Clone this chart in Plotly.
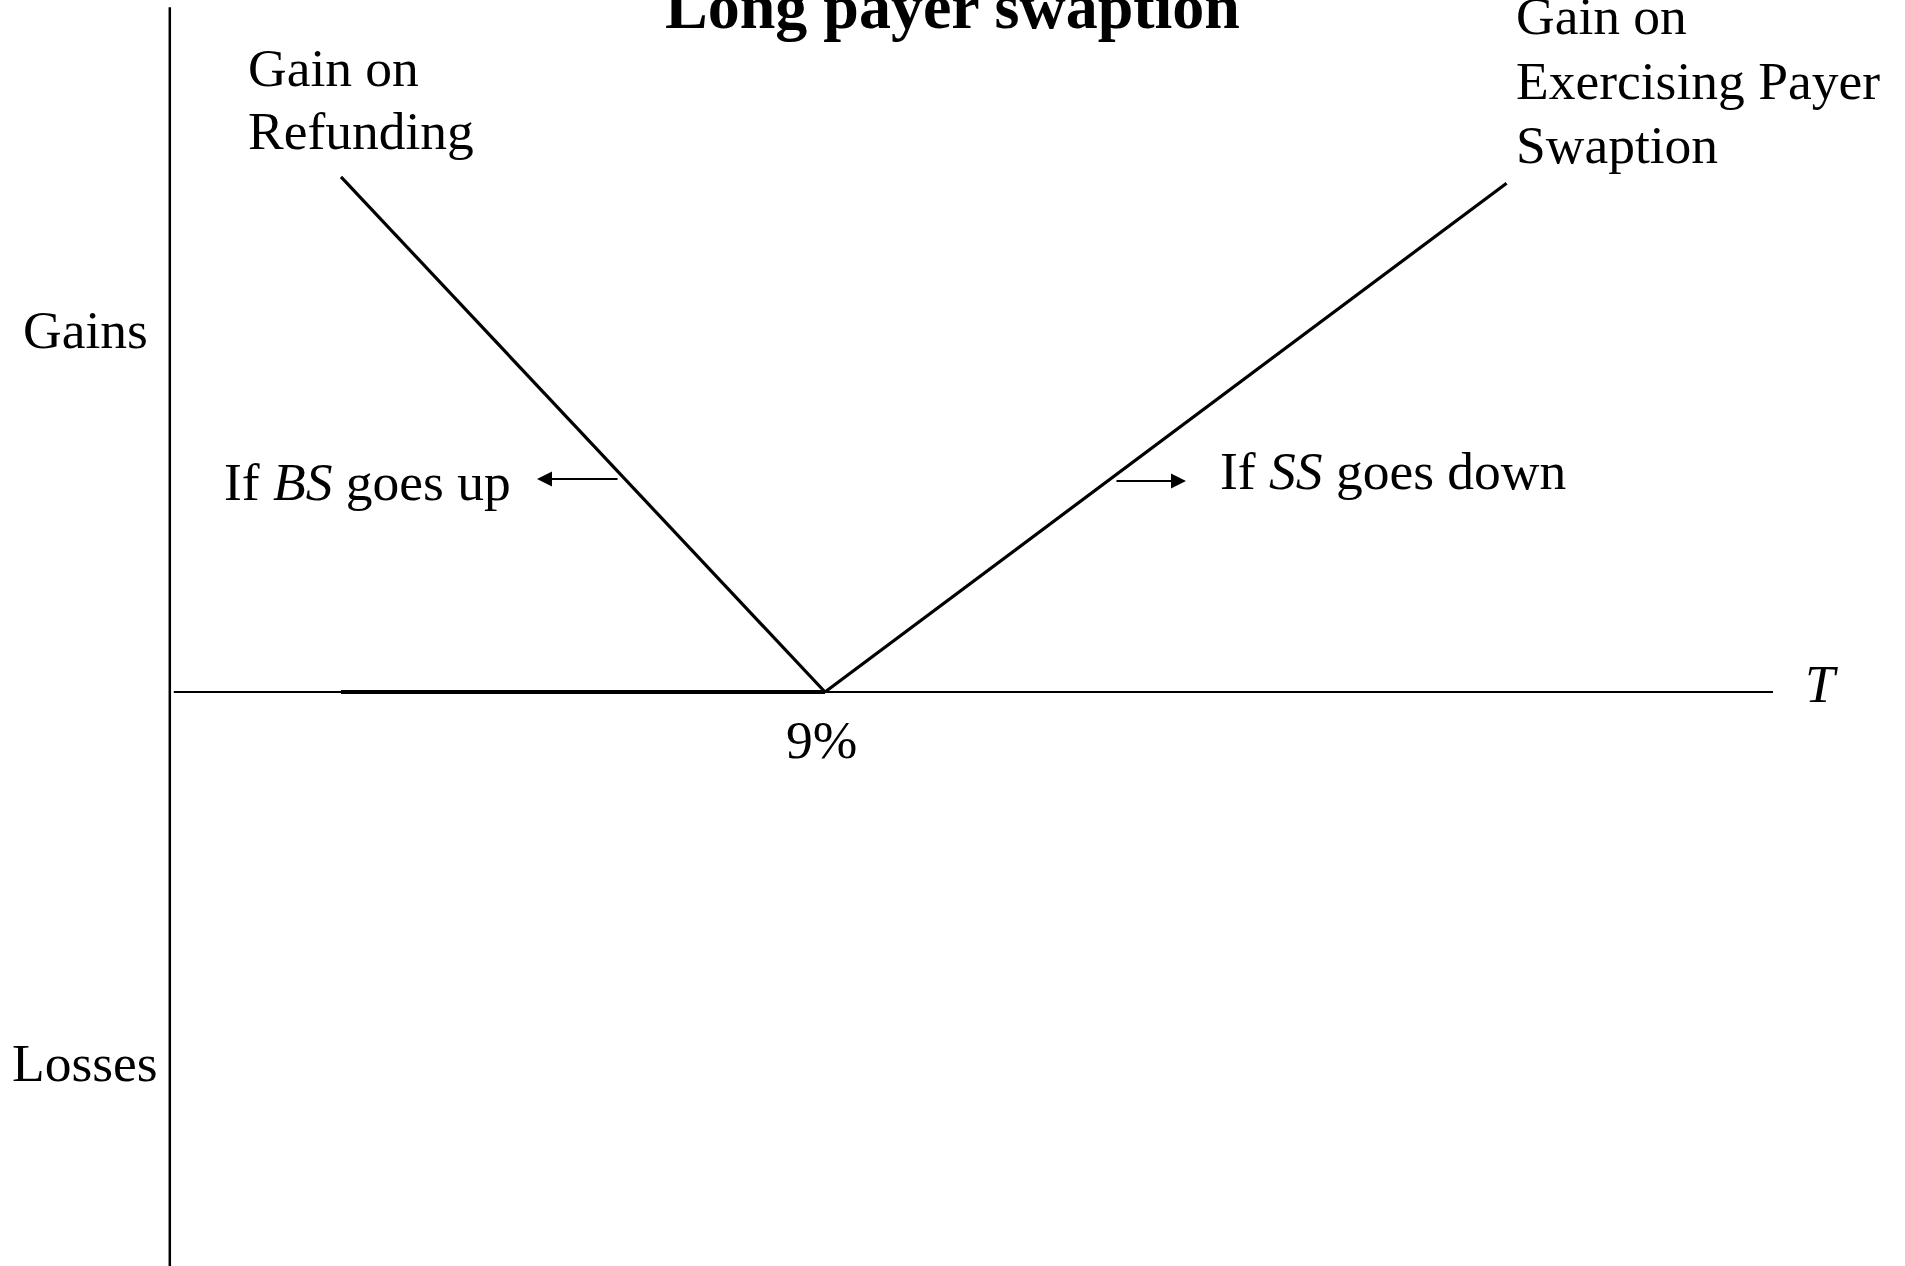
import plotly.graph_objects as go

# ---- data (x: interest rate units, 9 = strike; y: gain/loss units) ----
strike = 9
refund_rates = [2.95, 9]          # left leg of the V (gain on refunding)
refund_gain = [6.44, 0]
swaption_rates = [9, 17.52]       # right leg of the V (gain on exercising payer swaption)
swaption_gain = [0, 6.36]
flat_rates = [2.95, 9]            # thick flat segment on the axis
flat_gain = [0, 0]
haxis_rates = [0.86, 20.85]
haxis_vals = [0, 0]
vaxis_rates = [0.81, 0.81]
vaxis_vals = [8.56, -7.3]

W, H = 1905, 1266
PX = 80.0  # pixels per unit
X0 = strike - 825 / PX
Y0 = 692 / PX

def px_x(p):
    return X0 + p / PX

def px_y(p):
    return Y0 - p / PX

FONT = "Liberation Serif, Times New Roman, serif"
BLACK = "#000000"

fig = go.Figure()
fig.add_trace(go.Scatter(x=haxis_rates, y=haxis_vals, mode="lines",
                         line=dict(color=BLACK, width=2.2), hoverinfo="skip"))
fig.add_trace(go.Scatter(x=vaxis_rates, y=vaxis_vals, mode="lines",
                         line=dict(color=BLACK, width=2.5), hoverinfo="skip"))
fig.add_trace(go.Scatter(x=flat_rates, y=flat_gain, mode="lines",
                         line=dict(color=BLACK, width=4), hoverinfo="skip"))
fig.add_trace(go.Scatter(x=refund_rates, y=refund_gain, mode="lines",
                         line=dict(color=BLACK, width=3.2), hoverinfo="skip"))
fig.add_trace(go.Scatter(x=swaption_rates, y=swaption_gain, mode="lines",
                         line=dict(color=BLACK, width=3.2), hoverinfo="skip"))

def label(text, xp, yp, size=53.5, xanchor="left"):
    fig.add_annotation(x=px_x(xp), y=px_y(yp), xref="x", yref="y", text=text,
                       showarrow=False, xanchor=xanchor, yanchor="middle",
                       font=dict(family=FONT, size=size, color=BLACK))

label("<b>Long payer swaption</b>", 952, 6, size=64, xanchor="center")
label("Gain on", 246, 68)
label("Refunding", 246, 131)
label("Gain on", 1514, 16)
label("Exercising Payer", 1514, 81)
label("Swaption", 1514, 145)
label("Gains", 21, 330)
label("Losses", 10, 1063)
label("If <i>BS</i> goes up", 222, 482)
label("If <i>SS</i> goes down", 1218, 471)
label("9%", 821, 740, xanchor="center")
label("<i>T</i>", 1803, 684)

# arrows
for tail, tip, yp in [(619, 537, 479), (1115, 1186, 481)]:
    fig.add_annotation(x=px_x(tip), y=px_y(yp), ax=px_x(tail), ay=px_y(yp),
                       xref="x", yref="y", axref="x", ayref="y", text="",
                       showarrow=True, arrowhead=2, arrowsize=1.5, arrowwidth=2,
                       arrowcolor=BLACK, standoff=0)

fig.update_layout(
    width=W, height=H,
    margin=dict(l=0, r=0, t=0, b=0),
    paper_bgcolor="white", plot_bgcolor="white",
    showlegend=False,
    xaxis=dict(range=[px_x(0), px_x(W)], visible=False, fixedrange=True),
    yaxis=dict(range=[px_y(H), px_y(0)], visible=False, fixedrange=True),
)

fig.write_html("out.html", config={"displayModeBar": False},
               post_script="document.body.style.margin='0';document.body.style.overflow='hidden';")
